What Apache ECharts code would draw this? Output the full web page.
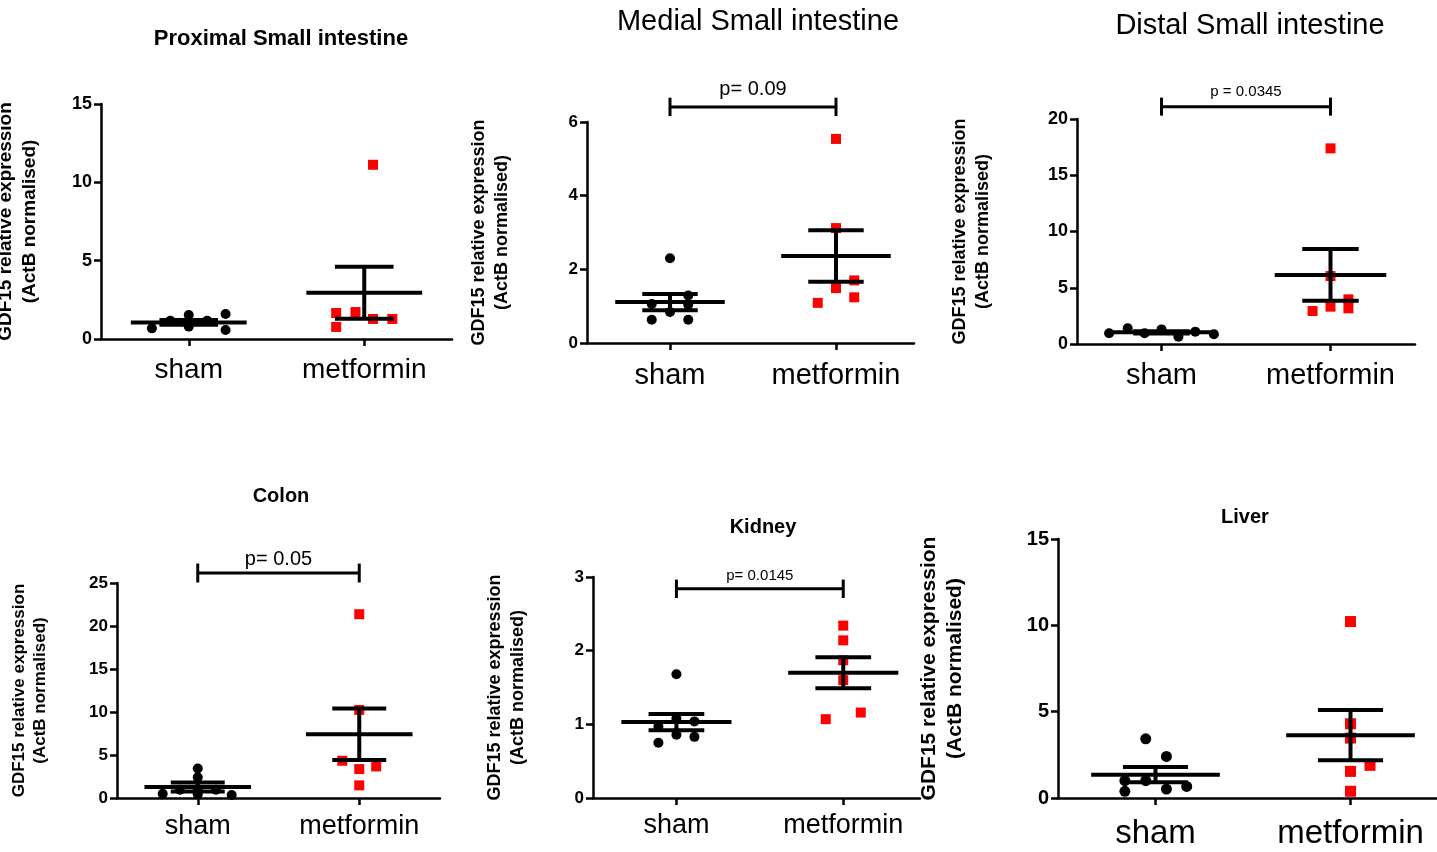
<!DOCTYPE html>
<html>
<head>
<meta charset="utf-8">
<title>GDF15 relative expression</title>
<script src="https://cdn.jsdelivr.net/npm/echarts@6/dist/echarts.min.js"></script>
<style>
  html, body { margin: 0; padding: 0; background: #fff; }
  #main { width: 1437px; height: 852px; }
</style>
</head>
<body>
<div id="main"></div>
<script>
// x axis groups, position 1 = sham, 2 = metformin
const groups = ['sham', 'metformin']

// Proximal small intestine
const proxShamJitter = [-0.21, -0.105, 0, 0, 0.105, 0.21, 0.21]
const proxSham = [0.68, 1.17, 1.53, 0.79, 1.17, 1.60, 0.57]
const proxMetJitter = [-0.16, -0.05, -0.16, 0.05, 0.16, 0.05]
const proxMet = [1.66, 1.72, 0.77, 1.28, 1.28, 11.12]
const proxMean = [1.06, 2.95]
const proxSem = [0.15, 1.66]

// Medial small intestine
const medShamJitter = [0, -0.11, 0.11, 0, -0.11, 0.11, 0.11]
const medSham = [2.30, 1.06, 1.29, 0.84, 0.63, 1.04, 0.63]
const medMetJitter = [0, 0, 0.11, 0, -0.11, 0.11]
const medMet = [5.54, 3.12, 1.70, 1.49, 1.09, 1.24]
const medMean = [1.11, 2.36]
const medSem = [0.22, 0.70]

// Distal small intestine
const distShamJitter = [-0.31, -0.2, -0.1, 0, 0.1, 0.2, 0.31]
const distSham = [0.95, 1.39, 0.95, 1.30, 0.65, 1.10, 0.86]
const distMetJitter = [0, 0, 0.106, 0, 0.106, -0.106]
const distMet = [17.39, 6.04, 3.97, 3.32, 3.17, 2.93]
const distMean = [1.04, 6.14]
const distSem = [0.1, 2.3]

// Colon
const colonShamJitter = [-0.217, -0.11, 0, 0, 0, 0, 0.113, 0.21]
const colonSham = [0.50, 0.97, 3.44, 2.40, 1.05, 0.45, 0.97, 0.35]
const colonMetJitter = [0, 0, -0.105, 0, 0.105, 0]
const colonMet = [21.37, 10.24, 4.33, 3.36, 3.67, 1.47]
const colonMean = [1.28, 7.41]
const colonSem = [0.52, 3.0]

// Kidney
const kidShamJitter = [0, -0.108, 0, 0.108, -0.108, 0, 0.108]
const kidSham = [1.68, 0.97, 1.08, 1.04, 0.75, 0.86, 0.83]
const kidMetJitter = [0, 0, 0, 0, -0.105, 0.105]
const kidMet = [2.34, 2.14, 1.87, 1.60, 1.07, 1.16]
const kidMean = [1.03, 1.70]
const kidSem = [0.11, 0.21]

// Liver
const livShamJitter = [-0.05, 0.056, -0.157, -0.05, -0.157, 0.056, 0.16]
const livSham = [3.43, 2.41, 1.0, 1.0, 0.39, 0.52, 0.67]
const livMetJitter = [0, 0, 0, 0.1, 0, 0]
const livMet = [10.22, 4.30, 3.47, 1.89, 1.54, 0.39]
const livMean = [1.35, 3.64]
const livSem = [0.44, 1.45]

// significance brackets: [y of bar, half height of end ticks, y of label]
const medBracket = [6.41, 0.25, 6.88]
const distBracket = [21.1, 0.8, 22.4]
const colonBracket = [26.16, 1.1, 27.7]
const kidBracket = [2.84, 0.125, 3.01]

const FONT = '"Liberation Sans", Arial, Helvetica, sans-serif'

const panels = [
  { title: 'Proximal Small intestine', tBold: true, tSize: 22, tx: 281, ty: 28,
    grid: { left: 101, top: 104, width: 351, height: 235 }, xMax: 2.5, yMax: 15, yStep: 5,
    nameGap: 59, nameSize: 19, tickSize: 18, catSize: 28, catMargin: 17,
    sham: [proxShamJitter, proxSham], met: [proxMetJitter, proxMet], mean: proxMean, sem: proxSem },
  { title: 'Medial Small intestine', tBold: false, tSize: 29, tx: 758, ty: 7,
    grid: { left: 587, top: 122, width: 327, height: 221 }, xMax: 2.47, yMax: 6, yStep: 2,
    nameGap: 73, nameSize: 18, tickSize: 17, catSize: 29, catMargin: 18,
    sham: [medShamJitter, medSham], met: [medMetJitter, medMet], mean: medMean, sem: medSem,
    bracket: medBracket, p: 'p= 0.09', pSize: 20 },
  { title: 'Distal Small intestine', tBold: false, tSize: 29, tx: 1250, ty: 11,
    grid: { left: 1077, top: 119, width: 338, height: 225 }, xMax: 2.5, yMax: 20, yStep: 5,
    nameGap: 82, nameSize: 18, tickSize: 18, catSize: 29, catMargin: 17,
    sham: [distShamJitter, distSham], met: [distMetJitter, distMet], mean: distMean, sem: distSem,
    bracket: distBracket, p: 'p = 0.0345', pSize: 15 },
  { title: 'Colon', tBold: true, tSize: 20, tx: 281, ty: 486,
    grid: { left: 117, top: 583, width: 323, height: 215 }, xMax: 2.5, yMax: 25, yStep: 5,
    nameGap: 66, nameSize: 17, tickSize: 17, catSize: 27, catMargin: 15,
    sham: [colonShamJitter, colonSham], met: [colonMetJitter, colonMet], mean: colonMean, sem: colonSem,
    bracket: colonBracket, p: 'p= 0.05', pSize: 20 },
  { title: 'Kidney', tBold: true, tSize: 20, tx: 763, ty: 517,
    grid: { left: 593, top: 577, width: 327, height: 221 }, xMax: 2.46, yMax: 3, yStep: 1,
    nameGap: 63, nameSize: 18, tickSize: 17, catSize: 27, catMargin: 14,
    sham: [kidShamJitter, kidSham], met: [kidMetJitter, kidMet], mean: kidMean, sem: kidSem,
    bracket: kidBracket, p: 'p= 0.0145', pSize: 15 },
  { title: 'Liver', tBold: true, tSize: 20, tx: 1245, ty: 507,
    grid: { left: 1058, top: 539, width: 390, height: 259 }, xMax: 2.5, yMax: 15, yStep: 5,
    nameGap: 90, nameSize: 21, tickSize: 20, catSize: 33, catMargin: 19,
    sham: [livShamJitter, livSham], met: [livMetJitter, livMet], mean: livMean, sem: livSem }
]

// mean line with SEM whiskers
function errorBarItem(params, api) {
  const x = api.value(0), mean = api.value(1), sem = api.value(2)
  const l = api.coord([x - 0.33, mean])
  const r = api.coord([x + 0.33, mean])
  const hi = api.coord([x, mean + sem])
  const lo = api.coord([x, mean - sem])
  const cw = api.size([0.167, 0])[0]
  const style = { stroke: '#000', lineWidth: 4 }
  return {
    type: 'group',
    children: [
      { type: 'line', shape: { x1: l[0], y1: l[1], x2: r[0], y2: r[1] }, style },
      { type: 'line', shape: { x1: hi[0], y1: hi[1], x2: lo[0], y2: lo[1] }, style },
      { type: 'line', shape: { x1: hi[0] - cw, y1: hi[1], x2: hi[0] + cw, y2: hi[1] }, style },
      { type: 'line', shape: { x1: lo[0] - cw, y1: lo[1], x2: lo[0] + cw, y2: lo[1] }, style }
    ]
  }
}

function bracketRenderer(pText, pSize) {
  return function (params, api) {
    const y = api.value(2), h = api.value(3), ly = api.value(4)
    const a = api.coord([api.value(0), y])
    const b = api.coord([api.value(1), y])
    const t = api.size([0, h])[1]
    const lab = api.coord([(api.value(0) + api.value(1)) / 2, ly])
    const style = { stroke: '#000', lineWidth: 3 }
    return {
      type: 'group',
      children: [
        { type: 'line', shape: { x1: a[0], y1: a[1], x2: b[0], y2: b[1] }, style },
        { type: 'line', shape: { x1: a[0], y1: a[1] - t, x2: a[0], y2: a[1] + t }, style },
        { type: 'line', shape: { x1: b[0], y1: b[1] - t, x2: b[0], y2: b[1] + t }, style },
        { type: 'text', style: { text: pText, x: lab[0], y: lab[1], align: 'center', verticalAlign: 'middle',
          fill: '#000', font: pSize + 'px ' + FONT } }
      ]
    }
  }
}

const option = {
  animation: false,
  backgroundColor: '#fff',
  title: [], grid: [], xAxis: [], yAxis: [], series: []
}

panels.forEach((p, i) => {
  option.title.push({
    text: p.title, left: p.tx, top: p.ty, textAlign: 'center', padding: 0,
    textStyle: { fontFamily: FONT, fontSize: p.tSize, fontWeight: p.tBold ? 'bold' : 'normal', color: '#000' }
  })
  // keep the grid exactly where it is placed, even if names run off the canvas
  option.grid.push(Object.assign({ containLabel: false, outerBoundsMode: 'none' }, p.grid))
  option.xAxis.push({
    gridIndex: i, type: 'value', min: 0.5, max: p.xMax,
    axisLine: { show: true, onZero: false, lineStyle: { color: '#000', width: 2.5 } },
    axisTick: { show: true, customValues: [1, 2], length: 7, lineStyle: { color: '#000', width: 2.5 } },
    axisLabel: { customValues: [1, 2], formatter: v => groups[Math.round(v) - 1], margin: p.catMargin,
      fontFamily: FONT, fontSize: p.catSize, color: '#000' },
    splitLine: { show: false }
  })
  option.yAxis.push({
    gridIndex: i, type: 'value', min: 0, max: p.yMax, interval: p.yStep,
    name: 'GDF15 relative expression\n(ActB normalised)', nameLocation: 'middle', nameGap: p.nameGap,
    nameTextStyle: { fontFamily: FONT, fontSize: p.nameSize, fontWeight: 'bold', color: '#000',
      lineHeight: Math.round(p.nameSize * 1.25) },
    axisLine: { show: true, lineStyle: { color: '#000', width: 2.5 } },
    axisTick: { show: true, length: 7, lineStyle: { color: '#000', width: 2.5 } },
    axisLabel: { margin: 9, fontFamily: FONT, fontSize: p.tickSize, fontWeight: 'bold', color: '#000' },
    splitLine: { show: false }
  })
  option.series.push({
    type: 'scatter', xAxisIndex: i, yAxisIndex: i, symbol: 'circle',
    symbolSize: i === 5 ? 11 : 10, itemStyle: { color: '#000', opacity: 1 }, clip: false, z: 2,
    data: p.sham[1].map((v, k) => [1 + p.sham[0][k], v])
  })
  option.series.push({
    type: 'scatter', xAxisIndex: i, yAxisIndex: i, symbol: 'rect',
    symbolSize: i === 5 ? 11 : 10, itemStyle: { color: '#ff0000', opacity: 1 }, clip: false, z: 2,
    data: p.met[1].map((v, k) => [2 + p.met[0][k], v])
  })
  option.series.push({
    type: 'custom', xAxisIndex: i, yAxisIndex: i, renderItem: errorBarItem, clip: false, z: 3,
    data: p.mean.map((m, k) => [k + 1, m, p.sem[k]])
  })
  if (p.bracket) {
    option.series.push({
      type: 'custom', xAxisIndex: i, yAxisIndex: i, renderItem: bracketRenderer(p.p, p.pSize), clip: false, z: 3,
      data: [[1, 2, p.bracket[0], p.bracket[1], p.bracket[2]]]
    })
  }
})

const chart = echarts.init(document.getElementById('main'))
chart.setOption(option)
</script>
</body>
</html>
